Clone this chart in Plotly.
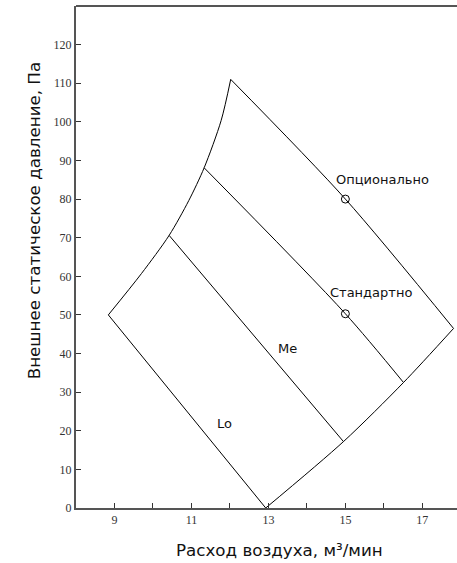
import plotly.graph_objects as go

# ---- data ----
left_x = [8.84, 9.70, 10.42, 10.93, 11.33, 11.77, 12.02]
left_y = [50.0, 60.7, 70.6, 79.6, 88.1, 100.3, 111.0]

top_x = [12.02, 15.0, 17.81]
top_y = [111.0, 80.0, 46.5]

right_x = [12.93, 14.95, 16.51, 17.81]
right_y = [0.0, 17.2, 32.5, 46.5]

bottom_x = [8.84, 12.93]
bottom_y = [50.0, 0.0]

lo_me_x = [10.42, 14.95]
lo_me_y = [70.6, 17.2]

me_hi_x = [11.33, 15.0, 16.51]
me_hi_y = [88.1, 50.3, 32.5]

point_x = [15.0, 15.0]
point_y = [80.0, 50.3]

labels = ["Опционально", "Стандартно", "Me", "Lo"]
label_x = [15.97, 15.67, 13.50, 11.85]
label_y = [85.0, 55.9, 41.3, 21.8]

x_ticks = [9, 10, 11, 12, 13, 14, 15, 16, 17]
x_ticktext = ["9", "", "11", "", "13", "", "15", "", "17"]
y_ticks = [0, 10, 20, 30, 40, 50, 60, 70, 80, 90, 100, 110, 120]

x_title = "Расход воздуха, м³/мин"
y_title = "Внешнее статическое давление, Па"

fig = go.Figure()
for xs, ys in [(left_x, left_y), (top_x, top_y), (right_x, right_y),
               (bottom_x, bottom_y), (lo_me_x, lo_me_y), (me_hi_x, me_hi_y)]:
    fig.add_trace(go.Scatter(x=xs, y=ys, mode="lines",
                             line=dict(color="black", width=1, shape="spline", smoothing=0.8),
                             hoverinfo="skip", showlegend=False))

fig.add_trace(go.Scatter(x=point_x, y=point_y, mode="markers",
                         marker=dict(symbol="circle-open", size=8, color="black",
                                     line=dict(width=1, color="black")),
                         showlegend=False))

for t, x, y in zip(labels, label_x, label_y):
    fig.add_annotation(x=x, y=y, text=t, showarrow=False,
                       font=dict(family="DejaVu Sans", size=13, color="#111"))

fig.add_annotation(xref="paper", yref="paper", x=(279 - 76) / 381, y=(563 - 55 - 550) / 502,
                   text=x_title, showarrow=False, yanchor="middle",
                   font=dict(family="DejaVu Sans", size=16.7, color="#111"))
fig.add_annotation(xref="paper", yref="paper", x=(22 - 76) / 381, y=(507.7 - 221) / 502,
                   text=y_title, showarrow=False, textangle=-90,
                   font=dict(family="DejaVu Sans", size=16.7, color="#111"))

fig.add_shape(type="line", xref="paper", yref="paper", x0=0, x1=1, y0=1, y1=1,
              line=dict(color="#555", width=2))

fig.update_layout(
    width=457, height=563,
    margin=dict(l=76, r=0, t=6, b=55),
    paper_bgcolor="white", plot_bgcolor="white",
    xaxis=dict(range=[8, 17.9], showgrid=False, zeroline=False,
               tickvals=x_ticks, ticktext=x_ticktext, ticks="inside", ticklen=5,
               tickcolor="#333", showline=True, linecolor="#555", linewidth=2,
               tickfont=dict(family="Liberation Serif", size=12, color="#333")),
    yaxis=dict(range=[0, 130], showgrid=False, zeroline=False,
               tickvals=y_ticks, ticks="inside", ticklen=5,
               tickcolor="#333", showline=True, linecolor="#555", linewidth=2,
               tickfont=dict(family="Liberation Serif", size=12, color="#333")),
)

fig.write_html("out.html", config={"displayModeBar": False},
               post_script="document.body.style.margin='0';document.body.style.overflow='hidden';")
